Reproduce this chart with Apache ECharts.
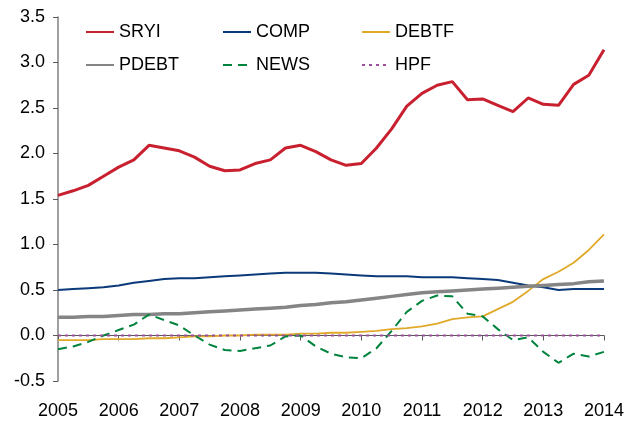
<!DOCTYPE html>
<html>
<head>
    <meta charset="utf-8">
    <title>SRYI</title>
    <script src="https://cdn.jsdelivr.net/npm/echarts@6.0.0/dist/echarts.min.js"></script>
    <style>
        html, body { margin: 0; padding: 0; background: #fff; }
        #chart { width: 627px; height: 421px; }
    </style>
</head>
<body>
<div id="chart"></div>
<script>
  // 季度数据 2005Q1 - 2014Q1
  var quarters = [
      '2005Q1','2005Q2','2005Q3','2005Q4','2006Q1','2006Q2','2006Q3','2006Q4',
      '2007Q1','2007Q2','2007Q3','2007Q4','2008Q1','2008Q2','2008Q3','2008Q4',
      '2009Q1','2009Q2','2009Q3','2009Q4','2010Q1','2010Q2','2010Q3','2010Q4',
      '2011Q1','2011Q2','2011Q3','2011Q4','2012Q1','2012Q2','2012Q3','2012Q4',
      '2013Q1','2013Q2','2013Q3','2013Q4','2014Q1'
  ];

  var sryi = [1.54, 1.59, 1.65, 1.75, 1.85, 1.93, 2.09, 2.06, 2.03, 1.96, 1.86, 1.81,
              1.82, 1.89, 1.93, 2.06, 2.09, 2.02, 1.93, 1.87, 1.89, 2.06, 2.27, 2.52,
              2.66, 2.75, 2.79, 2.59, 2.60, 2.53, 2.46, 2.61, 2.54, 2.53, 2.76, 2.86, 3.14];

  var comp = [0.50, 0.51, 0.52, 0.53, 0.55, 0.58, 0.60, 0.62, 0.63, 0.63, 0.64, 0.65,
              0.66, 0.67, 0.68, 0.69, 0.69, 0.69, 0.68, 0.67, 0.66, 0.65, 0.65, 0.65,
              0.64, 0.64, 0.64, 0.63, 0.62, 0.61, 0.58, 0.55, 0.53, 0.50, 0.51, 0.51, 0.51];

  var debtf = [-0.05, -0.05, -0.05, -0.04, -0.04, -0.04, -0.03, -0.03, -0.02, -0.01, -0.01, 0.00,
               0.00, 0.01, 0.01, 0.01, 0.02, 0.02, 0.03, 0.03, 0.04, 0.05, 0.07, 0.08,
               0.10, 0.13, 0.18, 0.20, 0.21, 0.29, 0.37, 0.49, 0.62, 0.70, 0.80, 0.94, 1.11];

  var pdebt = [0.20, 0.20, 0.21, 0.21, 0.22, 0.23, 0.23, 0.24, 0.24, 0.25, 0.26, 0.27,
               0.28, 0.29, 0.30, 0.31, 0.33, 0.34, 0.36, 0.37, 0.39, 0.41, 0.43, 0.45,
               0.47, 0.48, 0.49, 0.50, 0.51, 0.52, 0.53, 0.54, 0.55, 0.56, 0.57, 0.59, 0.60];

  var news = [-0.15, -0.12, -0.07, 0.00, 0.06, 0.12, 0.23, 0.17, 0.11, 0.00, -0.10, -0.16,
              -0.17, -0.14, -0.11, -0.01, 0.00, -0.12, -0.20, -0.24, -0.25, -0.14, 0.05, 0.26,
              0.38, 0.44, 0.43, 0.24, 0.21, 0.07, -0.05, -0.02, -0.18, -0.30, -0.20, -0.23, -0.18];

  var hpf = [0, 0, 0, 0, 0, 0, 0, 0, 0, 0, 0, 0, 0, 0, 0, 0, 0, 0, 0,
             0, 0, 0, 0, 0, 0, 0, 0, 0, 0, 0, 0, 0, 0, 0, 0, 0, 0];

  var yTicks = { min: -0.5, max: 3.5, interval: 0.5 };

  var font = 'Liberation Sans, Arial, sans-serif';
  var legendText = { fontFamily: font, fontSize: 18, color: '#000' };

  // 图例：三列两行
  function legendAt(left, names) {
      return {
          orient: 'vertical',
          left: left,
          top: 23,
          padding: 0,
          itemWidth: 28,
          itemHeight: 14,
          itemGap: 15,
          textStyle: legendText,
          // 隐藏图例里的圆点，只留线
          itemStyle: { color: 'rgba(0,0,0,0)', borderColor: 'rgba(0,0,0,0)', borderWidth: 0 },
          data: names
      };
  }

  function line(name, data, color, width, type, z) {
      return {
          name: name,
          type: 'line',
          data: data,
          symbol: 'none',
          z: z,
          lineStyle: { color: color, width: width, type: type },
          itemStyle: { color: color }
      };
  }

  var myChart = echarts.init(document.getElementById('chart'), null, { renderer: 'canvas' });

  myChart.setOption({
      animation: false,
      backgroundColor: '#fff',
      grid: { left: 58, right: 21, top: 17, bottom: 40 },
      legend: [
          legendAt(85, ['SRYI', 'PDEBT']),
          legendAt(222, ['COMP', 'NEWS']),
          legendAt(361, ['DEBTF', 'HPF'])
      ],
      xAxis: [
          {
              // 底部年份标签
              type: 'category',
              position: 'bottom',
              boundaryGap: false,
              data: quarters,
              axisLine: { show: false, onZero: false },
              axisTick: { show: false },
              axisLabel: {
                  interval: 3,
                  margin: 21,
                  fontFamily: font,
                  fontSize: 18,
                  color: '#000',
                  formatter: function (v) { return v.slice(0, 4); }
              },
              splitLine: { show: false }
          },
          {
              // 零线与刻度
              type: 'category',
              position: 'bottom',
              boundaryGap: false,
              data: quarters,
              axisLine: { show: true, onZero: true, lineStyle: { color: '#595959', width: 1 } },
              axisTick: { show: true, interval: 3, length: 5, lineStyle: { color: '#595959' } },
              axisLabel: { show: false },
              splitLine: { show: false }
          }
      ],
      yAxis: {
          type: 'value',
          min: yTicks.min,
          max: yTicks.max,
          interval: yTicks.interval,
          axisLine: { show: true, lineStyle: { color: '#7f7f7f', width: 1.5 } },
          axisTick: { show: true, length: 5, lineStyle: { color: '#595959' } },
          axisLabel: {
              margin: 13,
              fontFamily: font,
              fontSize: 18,
              color: '#000',
              formatter: function (v) { return v.toFixed(1); }
          },
          splitLine: { show: false }
      },
      series: [
          line('SRYI', sryi, '#c8202f', 3, 'solid', 6),
          line('COMP', comp, '#0b3a7a', 2, 'solid', 3),
          line('DEBTF', debtf, '#e0a92a', 1.8, 'solid', 2),
          line('PDEBT', pdebt, '#858585', 3.5, 'solid', 4),
          line('NEWS', news, '#00843d', 2, [9, 6], 5),
          line('HPF', hpf, '#9b4f9b', 2, [3, 4], 7)
      ]
  });
</script>
</body>
</html>
